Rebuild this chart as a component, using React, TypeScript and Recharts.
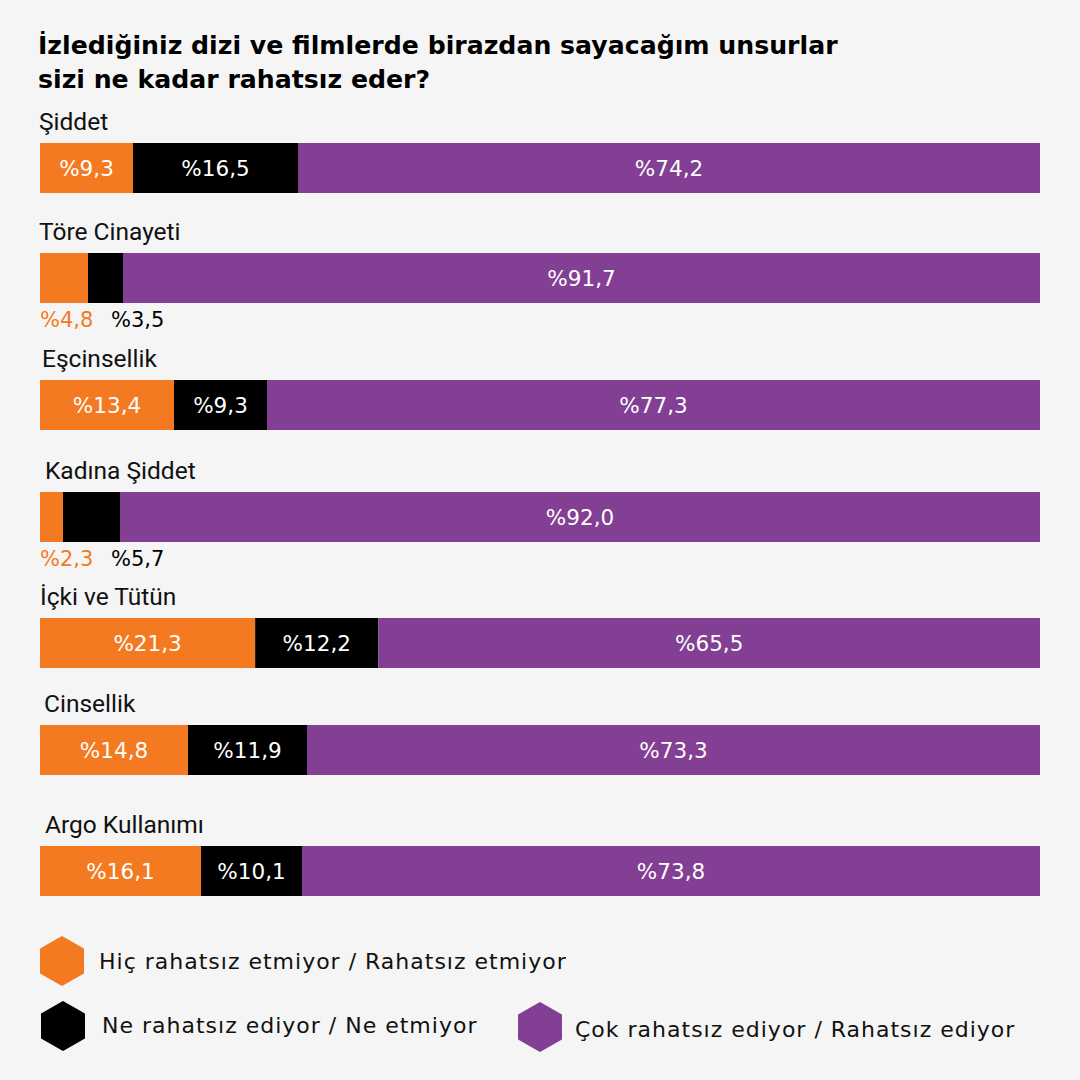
import React from 'react';
import { BarChart, Bar, XAxis, YAxis, LabelList } from 'recharts';

const categories = ['Şiddet', 'Töre Cinayeti', 'Eşcinsellik', 'Kadına Şiddet', 'İçki ve Tütün', 'Cinsellik', 'Argo Kullanımı'];
const hicRahatsiz = [9.3, 4.8, 13.4, 2.3, 21.3, 14.8, 16.1];
const neRahatsiz = [16.5, 3.5, 9.3, 5.7, 12.2, 11.9, 10.1];
const cokRahatsiz = [74.2, 91.7, 77.3, 92.0, 65.5, 73.3, 73.8];

const seriesNames = [
  'Hiç rahatsız etmiyor / Rahatsız etmiyor',
  'Ne rahatsız ediyor / Ne etmiyor',
  'Çok rahatsız ediyor / Rahatsız ediyor',
];

const ORANGE = '#f47a22';
const BLACK = '#000000';
const PURPLE = '#833f94';
const BG = '#f5f5f5';

// layout of each row (label and bar top)
const rowTops = [143, 253, 380, 492, 618, 725, 846];
const labelX = [39, 39, 42, 45, 40, 44, 45];

const valueFont = '"DejaVu Sans", sans-serif';

const fmt = (v: number) => '%' + v.toFixed(1).replace('.', ',');

const makeLabel = (color: string, idx: number) => (props: any) => {
  const x = Number(props.x);
  const y = Number(props.y);
  const width = Number(props.width);
  const height = Number(props.height);
  const value = Number(props.value);
  if (value < 6) {
    return (
      <text
        x={idx === 0 ? x : 71}
        y={y + height + 17}
        fill={color}
        fontSize={21}
        fontFamily={valueFont}
        dominantBaseline="central"
      >
        {fmt(value)}
      </text>
    );
  }
  return (
    <text
      x={x + width / 2}
      y={y + height / 2}
      fill="#ffffff"
      fontSize={21.5}
      fontFamily={valueFont}
      textAnchor="middle"
      dominantBaseline="central"
    >
      {fmt(value)}
    </text>
  );
};

const Hexagon: React.FC<{ cx: number; cy: number; color: string }> = ({ cx, cy, color }) => {
  const r = 24;
  const w = 21;
  const pts = [
    [cx, cy - r],
    [cx + w, cy - r / 2],
    [cx + w, cy + r / 2],
    [cx, cy + r],
    [cx - w, cy + r / 2],
    [cx - w, cy - r / 2],
  ]
    .map((p) => p.join(','))
    .join(' ');
  return <polygon points={pts} fill={color} stroke={color} strokeWidth={2} strokeLinejoin="round" />;
};

const Row: React.FC<{ i: number }> = ({ i }) => {
  const data = [{ name: categories[i], a: hicRahatsiz[i], b: neRahatsiz[i], c: cokRahatsiz[i] }];
  return (
    <div style={{ position: 'absolute', left: 0, top: rowTops[i] - 40, width: 1080 }}>
      <div
        style={{
          position: 'absolute',
          left: labelX[i],
          top: 4,
          fontFamily: 'Roboto, sans-serif',
          fontSize: 24.5,
          color: '#111',
          lineHeight: '30px',
          whiteSpace: 'nowrap',
        }}
      >
        {categories[i]}
      </div>
      <div style={{ position: 'absolute', left: 40, top: 40 }}>
        <BarChart
          width={1000}
          height={80}
          data={data}
          layout="vertical"
          margin={{ top: 0, right: 0, bottom: 30, left: 0 }}
          barCategoryGap="0%"
        >
          <XAxis type="number" domain={[0, 'dataMax']} hide />
          <YAxis type="category" dataKey="name" hide />
          <Bar dataKey="a" stackId="s" fill={ORANGE} isAnimationActive={false}>
            <LabelList dataKey="a" content={makeLabel(ORANGE, 0)} />
          </Bar>
          <Bar dataKey="b" stackId="s" fill={BLACK} isAnimationActive={false}>
            <LabelList dataKey="b" content={makeLabel(BLACK, 1)} />
          </Bar>
          <Bar dataKey="c" stackId="s" fill={PURPLE} isAnimationActive={false}>
            <LabelList dataKey="c" content={makeLabel(PURPLE, 2)} />
          </Bar>
        </BarChart>
      </div>
    </div>
  );
};

const legendText = {
  fontSize: 22,
  fontFamily: valueFont,
  fill: '#111',
  letterSpacing: 1,
};

const App: React.FC = () => {
  return (
    <div style={{ position: 'absolute', left: 0, top: 0, width: 1080, height: 1080, background: BG, overflow: 'hidden' }}>
      <div
        style={{
          position: 'absolute',
          left: 38,
          top: 29,
          fontFamily: '"DejaVu Sans", sans-serif',
          fontWeight: 700,
          fontSize: 25.2,
          lineHeight: '34px',
          color: '#000',
          whiteSpace: 'nowrap',
        }}
      >
        İzlediğiniz dizi ve filmlerde birazdan sayacağım unsurlar
        <br />
        sizi ne kadar rahatsız eder?
      </div>
      {categories.map((_, i) => (
        <Row key={i} i={i} />
      ))}
      <svg width={1080} height={160} style={{ position: 'absolute', left: 0, top: 920 }}>
        <Hexagon cx={62} cy={41} color={ORANGE} />
        <text x={99} y={41} {...legendText} dominantBaseline="central">
          {seriesNames[0]}
        </text>
        <Hexagon cx={63} cy={106} color={BLACK} />
        <text x={102} y={105} {...legendText} dominantBaseline="central">
          {seriesNames[1]}
        </text>
        <Hexagon cx={540} cy={107} color={PURPLE} />
        <text x={575} y={109} {...legendText} dominantBaseline="central">
          {seriesNames[2]}
        </text>
      </svg>
    </div>
  );
};

export default App;
